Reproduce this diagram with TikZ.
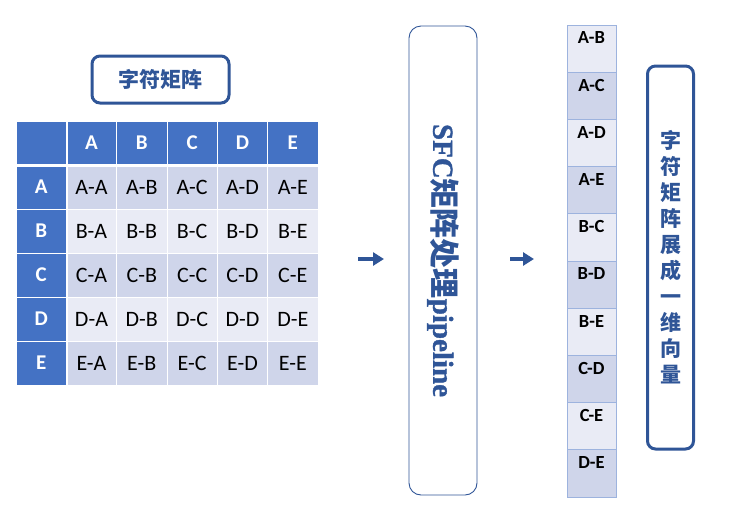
\documentclass[tikz,border=0pt]{standalone}
\usepackage{fontspec}
\setmainfont{Carlito}
\newfontfamily\cjk{Noto Sans CJK SC}
\newfontfamily\serifb{Liberation Serif Bold}[FakeBold=1.2]
\usetikzlibrary{calc,positioning,arrows.meta}

\definecolor{hdrblue}{HTML}{4472C4}
\definecolor{rowdark}{HTML}{CFD5EA}
\definecolor{rowlight}{HTML}{E9EBF5}
\definecolor{boxblue}{HTML}{2F5597}
\definecolor{celledge}{HTML}{9DB3DE}

\tikzset{
  cell/.style={draw=white, line width=0.8pt, minimum width=50.33pt, minimum height=44pt,
    inner sep=0pt, font=\fontsize{22}{24}\selectfont},
  hdrcell/.style={cell, fill=hdrblue, text=white, font=\fontsize{21}{22}\selectfont\bfseries},
  vcell/.style={draw=celledge, line width=0.8pt, minimum width=49pt, minimum height=47.2pt, inner sep=0pt},
  vtext/.style={anchor=north, yshift=-7pt, inner sep=0pt, font=\fontsize{18.5}{20}\selectfont\bfseries},
  titlebox/.style={draw=boxblue, line width=3pt, rounded corners=8pt, text=boxblue},
  flowarrow/.style={draw=boxblue, fill=boxblue, line width=4.5pt, -{Triangle[length=11pt,width=13pt]}}
}

\begin{document}
\begin{tikzpicture}[x=1pt, y=-1pt]
        \useasboundingbox (0,0) rectangle (739,515);

        % Title of the matrix
        \node[titlebox, minimum width=137pt, minimum height=47pt, font=\cjk\fontsize{21}{23}\selectfont\bfseries]
              (mtitle) at (160.5, 79.5) {字符矩阵};

        % Header row and row labels
        \node[hdrcell] (h00) at (41.2, 143) {};
        \foreach \c [count=\j] in {A,B,C,D,E} {
            \node[hdrcell] (h0\j) at ({16+50.33*(\j+0.5)}, 143) {\c};
        }
        \foreach \r [count=\i] in {A,B,C,D,E} {
            \node[hdrcell] (h\i0) at (41.2, {165+44*(\i-0.5)}) {\r};
        }

        % Matrix cells
        \foreach \r/\fc [count=\i] in {A/rowdark,B/rowlight,C/rowdark,D/rowlight,E/rowdark} {
            \foreach \c [count=\j] in {A,B,C,D,E} {
                \node[cell, fill=\fc] (m\i\j) at ({16+50.33*(\j+0.5)}, {165+44*(\i-0.5)}) {\r-\c};
            }
        }
        % Thicker white borders below header and right of labels
        \draw[white, line width=2.4pt] (h00.south west) -- (h05.south east);
        \draw[white, line width=2.4pt] (h00.north east) -- (h50.south east);

        % Pipeline box
        \node[draw=boxblue, line width=0.9pt, rounded corners=12pt, minimum width=68pt, minimum height=469pt]
              (pipe) at (443, 260.5) {};
        \node[rotate=-90, text=boxblue]
              (pipetxt) at (pipe.center)
              {\serifb\fontsize{29}{31}\selectfont SFC\cjk\bfseries\fontsize{30}{31}\selectfont 矩阵处理\serifb\mdseries\fontsize{29}{31}\selectfont pipeline};

        % Arrows
        \coordinate (a1s) at (358, 259);
        \coordinate (a1e) at (384, 259);
        \coordinate (a2s) at (510, 259);
        \coordinate (a2e) at (534, 259);
        \draw[flowarrow] (a1s) -- (a1e);
        \draw[flowarrow] (a2s) -- (a2e);

        % Flattened vector
        \foreach \p/\fc [count=\i] in {A-B/rowlight,A-C/rowdark,A-D/rowlight,A-E/rowdark,B-C/rowlight,
                                       B-D/rowdark,B-E/rowlight,C-D/rowdark,C-E/rowlight,D-E/rowdark} {
            \node[vcell, fill=\fc, label={[vtext]north:\p}] (v\i) at (591.5, {25+47.2*(\i-0.5)}) {};
        }

        % Right caption box
        \node[titlebox, minimum width=46pt, minimum height=383pt, inner sep=0pt]
              (vtitle) at (670.5, 257.5) {};
        \node[text=boxblue, align=center, font=\cjk\fontsize{21}{26}\selectfont\bfseries]
              (vtitletxt) at (vtitle.center) {字\\符\\矩\\阵\\展\\成\\一\\维\\向\\量};
\end{tikzpicture}
\end{document}
